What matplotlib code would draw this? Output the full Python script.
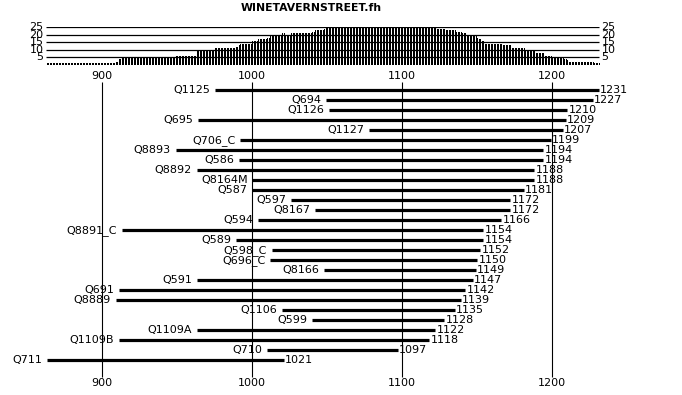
import numpy as np
import matplotlib
matplotlib.use("Agg")
import matplotlib.pyplot as plt

# ---- data ------------------------------------------------------------------
names = ["Q1125", "Q694", "Q1126", "Q695", "Q1127", "Q706_C", "Q8893", "Q586",
         "Q8892", "Q8164M", "Q587", "Q597", "Q8167", "Q594", "Q8891_C", "Q589",
         "Q598_C", "Q696_C", "Q8166", "Q591", "Q691", "Q8889", "Q1106", "Q599",
         "Q1109A", "Q1109B", "Q710", "Q711"]
starts = [975, 1049, 1051, 964, 1078, 992, 949, 991,
          963, 1000, 1000, 1026, 1042, 1004, 913, 989,
          1013, 1012, 1048, 963, 911, 909, 1020, 1040,
          963, 911, 1010, 863]
ends = [1231, 1227, 1210, 1209, 1207, 1199, 1194, 1194,
        1188, 1188, 1181, 1172, 1172, 1166, 1154, 1154,
        1152, 1150, 1149, 1147, 1142, 1139, 1135, 1128,
        1122, 1118, 1097, 1021]
decades = [900, 1000, 1100, 1200]
hist_levels = [5, 10, 15, 20, 25]
title = "WINETAVERNSTREET.fh"

# ---- layout (pixels -> data) -----------------------------------------------
W, H = 682, 395
PX_PER_YEAR = 1.5
X0 = 900 - 102 / PX_PER_YEAR          # year at left figure edge
X1 = X0 + W / PX_PER_YEAR
ROW_PX, ROW0_PX = 10, 90.3
FS = 8


def row_of(px):
    return (px - ROW0_PX) / ROW_PX


fig = plt.figure(figsize=(W / 100, H / 100), dpi=100)

# ---- main interval chart ---------------------------------------------------
ax = fig.add_axes([0, 0, 1, 1])
ax.set_xlim(X0, X1)
ax.set_ylim(row_of(H), row_of(0))
ax.axis("off")

ax.vlines(decades, row_of(82), row_of(377), color="black", linewidth=0.8)
for d in decades:
    ax.text(d, row_of(76), str(d), ha="center", va="center", fontsize=FS)
    ax.text(d, row_of(383), str(d), ha="center", va="center", fontsize=FS)

rows = np.arange(len(names))
ax.hlines(rows, starts, ends, color="black", linewidth=2.3)
for r, name, s, e in zip(rows, names, starts, ends):
    ax.text(s - 3, r, name, ha="right", va="center", fontsize=FS)
    ax.text(e + 1, r, str(e), ha="left", va="center", fontsize=FS)

# ---- coverage histogram on top (one 1-px bar per year) ---------------------
years = np.arange(min(starts), max(ends) + 1)
st, en = np.array(starts), np.array(ends)
counts = [int(((st <= y) & (en >= y)).sum()) for y in years]

base_px, top_px = 64.7, 27.3
axh = fig.add_axes([0, 1 - base_px / H, 1, (base_px - top_px) / H])
axh.set_xlim(X0, X1)
axh.set_ylim(0, 25)
axh.axis("off")
axh.vlines(years, 0, counts, color="black", linewidth=0.72,
           antialiased=False)
axh.hlines(hist_levels, min(starts) - 0.5, max(ends), color="black",
           linewidth=0.9)
for lv in hist_levels:
    axh.text(min(starts) - 2, lv, str(lv), ha="right", va="center",
             fontsize=FS)
    axh.text(max(ends) + 2, lv, str(lv), ha="left", va="center", fontsize=FS)

fig.text(311 / W, 1 - 8 / H, title, ha="center", va="center",
         fontsize=7.8, fontweight="bold")

fig.savefig("out.png", dpi=100)
